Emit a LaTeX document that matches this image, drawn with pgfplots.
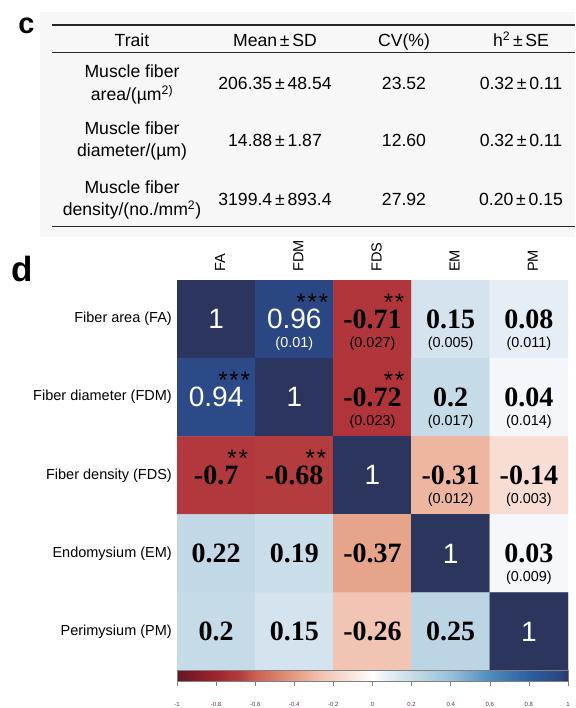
\documentclass[border=0pt]{standalone}
\usepackage{pgfplots}
\usepackage{pgfplotstable}
\pgfplotsset{compat=1.18}
\usepackage{fontspec}
\setmainfont{Liberation Sans}
\newfontfamily\serifnum{Liberation Serif}
\newcommand\pmw{\hspace{0.16em}±\hspace{0.16em}}
\newcommand\sthree{*\hspace{1.8pt}*\hspace{1.8pt}*}
\newcommand\stwo{*\hspace{1.8pt}*}
\definecolor{cbtext}{RGB}{110,45,45}
\pgfplotsset{colormap={corr}{
 rgb255(0pt)=(103,20,35)
 rgb255(20pt)=(160,35,45)
 rgb255(28pt)=(176,52,58)
 rgb255(32pt)=(179,60,62)
 rgb255(40pt)=(205,95,80)
 rgb255(63pt)=(230,165,138)
 rgb255(69pt)=(238,182,161)
 rgb255(74pt)=(242,196,180)
 rgb255(86pt)=(247,221,211)
 rgb255(100pt)=(255,255,255)
 rgb255(103pt)=(246,247,250)
 rgb255(104pt)=(243,246,250)
 rgb255(108pt)=(230,238,245)
 rgb255(115pt)=(212,227,237)
 rgb255(119pt)=(202,222,234)
 rgb255(120pt)=(198,219,232)
 rgb255(122pt)=(194,216,230)
 rgb255(125pt)=(188,213,229)
 rgb255(140pt)=(150,192,218)
 rgb255(160pt)=(80,140,188)
 rgb255(180pt)=(45,95,160)
 rgb255(194pt)=(44,74,136)
 rgb255(196pt)=(42,70,131)
 rgb255(200pt)=(44,53,94)
}}
\pgfplotstableread{
x y c
0 0 1
1 0 0.96
2 0 -0.71
3 0 0.15
4 0 0.08
0 1 0.94
1 1 1
2 1 -0.72
3 1 0.2
4 1 0.04
0 2 -0.7
1 2 -0.68
2 2 1
3 2 -0.31
4 2 -0.14
0 3 0.22
1 3 0.19
2 3 -0.37
3 3 1
4 3 0.03
0 4 0.2
1 4 0.15
2 4 -0.26
3 4 0.25
4 4 1
}\corrdata
\begin{document}
\begin{tikzpicture}[x=1pt,y=1pt,
  tf/.style={anchor=base,inner sep=0pt,font=\fontsize{17.6}{20}\selectfont},
  num/.style={inner sep=0pt,font=\serifnum\bfseries\fontsize{28}{30}\selectfont},
  wnum/.style={inner sep=0pt,text=white,font=\fontsize{28}{30}\selectfont},
  par/.style={inner sep=0pt,yshift=-24.5pt,font=\fontsize{14.4}{16}\selectfont},
  star/.style={inner sep=0pt,anchor=east,xshift=34pt,yshift=17.3pt,text=black,font=\fontsize{24}{26}\selectfont}]
\useasboundingbox (0,0) rectangle (575,708);
% panel c
\fill[black!3] (40,471) rectangle (575,696);
\node[inner sep=0pt,font=\bfseries\fontsize{29}{30}\selectfont] at (26.5,682.5) {c};
\draw[line width=1.6pt,black!85] (52,683) -- (575,683);
\draw[line width=1.3pt,black!85] (52,655.7) -- (575,655.7);
\draw[line width=1.6pt,black!85] (52,481.3) -- (575,481.3);
\node[tf] at (132,661.7) {Trait};
\node[tf] at (275,661.7) {Mean\pmw SD};
\node[tf] at (404,661.7) {CV(\%)};
\node[tf] at (521,661.7) {h\textsuperscript{2}\pmw SE};
\node[tf] at (132,630) {Muscle fiber};
\node[tf] at (132,607.7) {area/(µm\textsuperscript{2)}};
\node[tf] at (275,618.4) {206.35\pmw 48.54};
\node[tf] at (404,618.4) {23.52};
\node[tf] at (521,618.4) {0.32\pmw 0.11};
\node[tf] at (132,573.4) {Muscle fiber};
\node[tf] at (132,551) {diameter/(µm)};
\node[tf] at (275,561.5) {14.88\pmw 1.87};
\node[tf] at (404,561.5) {12.60};
\node[tf] at (521,561.5) {0.32\pmw 0.11};
\node[tf] at (132,514) {Muscle fiber};
\node[tf] at (132,492.7) {density/(no./mm\textsuperscript{2})};
\node[tf] at (275,502.4) {3199.4\pmw 893.4};
\node[tf] at (404,502.4) {27.92};
\node[tf] at (521,502.4) {0.20\pmw 0.15};
% panel d
\node[inner sep=0pt,font=\bfseries\fontsize{35}{36}\selectfont] at (22,439) {d};
\begin{axis}[at={(177pt,37.3pt)},anchor=south west,scale only axis,
  width=391pt,height=390.7pt,
  xmin=-0.5,xmax=4.5,ymin=-0.5,ymax=4.5,y dir=reverse,enlargelimits=false,
  axis line style={draw=none},tick style={draw=none},
  xtick={0,1,2,3,4},ytick={0,1,2,3,4},
  xticklabels={FA,FDM,FDS,EM,PM},
  yticklabels={Fiber area (FA),Fiber diameter (FDM),Fiber density (FDS),Endomysium (EM),Perimysium (PM)},
  xticklabel pos=upper,
  xticklabel style={xshift=4pt,rotate=90,anchor=west,inner sep=0pt,inner xsep=8pt,font=\fontsize{14.6}{16}\selectfont},
  yticklabel style={font=\fontsize{14.5}{16}\selectfont,inner sep=0pt,inner xsep=5pt},
  colormap name=corr,point meta min=-1,point meta max=1,
  colorbar horizontal,
  colorbar style={at={(0,0)},anchor=north west,yshift=-6pt,height=11pt,
    xtick={-1,-0.8,-0.6,-0.4,-0.2,0,0.2,0.4,0.6,0.8,1},
    xticklabel pos=lower,xtick pos=left,tick align=outside,major tick length=4pt,
    every tick/.style={gray,line width=0.6pt},
    axis line style={gray,line width=0.7pt},
    /pgf/number format/assume math mode=true,
    xticklabel style={font=\fontsize{6}{7}\selectfont,text=cbtext,yshift=-13pt}},
]
\addplot[matrix plot*,mesh/cols=5,point meta=explicit] table[x=x,y=y,meta=c] {\corrdata};
% row 0
\node[wnum] at (axis cs:0,0) {1};
\node[wnum] at (axis cs:1,0) {0.96};
\node[par,text=white] at (axis cs:1,0) {(0.01)};
\node[star] at (axis cs:1,0) {\sthree};
\node[num] at (axis cs:2,0) {-0.71};
\node[par] at (axis cs:2,0) {(0.027)};
\node[star,xshift=-2pt] at (axis cs:2,0) {\stwo};
\node[num] at (axis cs:3,0) {0.15};
\node[par] at (axis cs:3,0) {(0.005)};
\node[num] at (axis cs:4,0) {0.08};
\node[par] at (axis cs:4,0) {(0.011)};
% row 1
\node[wnum] at (axis cs:0,1) {0.94};
\node[star] at (axis cs:0,1) {\sthree};
\node[wnum] at (axis cs:1,1) {1};
\node[num] at (axis cs:2,1) {-0.72};
\node[par] at (axis cs:2,1) {(0.023)};
\node[star,xshift=-2pt] at (axis cs:2,1) {\stwo};
\node[num] at (axis cs:3,1) {0.2};
\node[par] at (axis cs:3,1) {(0.017)};
\node[num] at (axis cs:4,1) {0.04};
\node[par] at (axis cs:4,1) {(0.014)};
% row 2
\node[num] at (axis cs:0,2) {-0.7};
\node[star,xshift=-2pt] at (axis cs:0,2) {\stwo};
\node[num] at (axis cs:1,2) {-0.68};
\node[star,xshift=-2pt] at (axis cs:1,2) {\stwo};
\node[wnum] at (axis cs:2,2) {1};
\node[num] at (axis cs:3,2) {-0.31};
\node[par] at (axis cs:3,2) {(0.012)};
\node[num] at (axis cs:4,2) {-0.14};
\node[par] at (axis cs:4,2) {(0.003)};
% row 3
\node[num] at (axis cs:0,3) {0.22};
\node[num] at (axis cs:1,3) {0.19};
\node[num] at (axis cs:2,3) {-0.37};
\node[wnum] at (axis cs:3,3) {1};
\node[num] at (axis cs:4,3) {0.03};
\node[par] at (axis cs:4,3) {(0.009)};
% row 4
\node[num] at (axis cs:0,4) {0.2};
\node[num] at (axis cs:1,4) {0.15};
\node[num] at (axis cs:2,4) {-0.26};
\node[num] at (axis cs:3,4) {0.25};
\node[wnum] at (axis cs:4,4) {1};
\end{axis}
\end{tikzpicture}
\end{document}
